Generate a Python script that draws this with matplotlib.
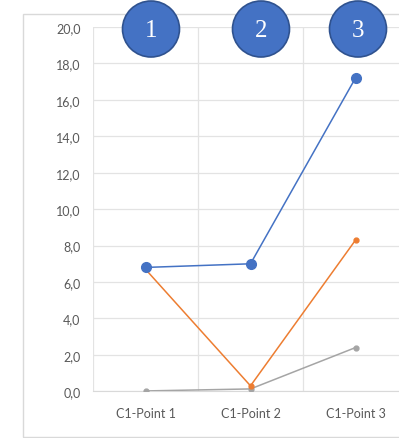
import matplotlib.pyplot as plt
import matplotlib.patches as mpatches
from matplotlib.ticker import FuncFormatter, MultipleLocator, FixedLocator

categories = ["C1-Point 1", "C1-Point 2", "C1-Point 3"]
serie_azul = [6.8, 7.0, 17.2]
serie_laranja = [6.7, 0.3, 8.3]
serie_cinza = [0.02, 0.13, 2.4]
rotulos = ["1", "2", "3"]

W, H = 399, 439
fig = plt.figure(figsize=(W / 100, H / 100), dpi=100)

# chart area border (right side runs past the edge)
fig.patches.append(mpatches.Rectangle((23 / W, 1 - 438 / H), 400 / W, 423 / H,
                                      transform=fig.transFigure, fill=False,
                                      edgecolor="#D9D9D9", linewidth=1))

ax = fig.add_axes([93 / W, 1 - 392.3 / H, 315 / W, (392.3 - 28) / H])
x = list(range(len(categories)))

ax.plot(x, serie_cinza, color="#A5A5A5", lw=1.1, marker="o", ms=3.5, zorder=3)
ax.plot(x, serie_laranja, color="#ED7D31", lw=1.1, marker="o", ms=3.5, zorder=4)
ax.plot(x, serie_azul, color="#4472C4", lw=1.1, marker="o", ms=7, zorder=5)

ax.set_xlim(-0.5, 2.5)
ax.set_ylim(0, 20)
ax.yaxis.set_major_locator(MultipleLocator(2))
ax.yaxis.set_major_formatter(FuncFormatter(lambda v, p: f"{v:.1f}".replace(".", ",")))
ax.set_xticks(x)
ax.set_xticklabels(categories)
ax.xaxis.set_minor_locator(FixedLocator([-0.5, 0.5, 1.5]))

ax.grid(axis="y", which="major", color="#E3E3E3", lw=0.9)
ax.grid(axis="x", which="minor", color="#E3E3E3", lw=0.9)
ax.set_axisbelow(True)
for s in ["top", "right", "left"]:
    ax.spines[s].set_visible(False)
ax.spines["bottom"].set_color("#D9D9D9")
ax.tick_params(which="both", length=0)
ax.tick_params(axis="y", pad=9, labelsize=9, labelcolor="#595959")
ax.tick_params(axis="x", pad=11, labelsize=9, labelcolor="#595959")
for t in ax.get_xticklabels() + ax.get_yticklabels():
    t.set_fontfamily("Lato")

# numbered circles
for cx, r in zip([151, 261, 358], rotulos):
    fig.patches.append(mpatches.Ellipse((cx / W, 1 - 30 / H), 57 / W, 56 / H,
                                        transform=fig.transFigure, facecolor="#4472C4",
                                        edgecolor="#2F528F", linewidth=1.2, zorder=10))
    fig.text(cx / W, 1 - 31 / H, r, color="white", fontsize=18,
             family="Liberation Serif", ha="center", va="center", zorder=11)

fig.savefig("out.png", dpi=100)
